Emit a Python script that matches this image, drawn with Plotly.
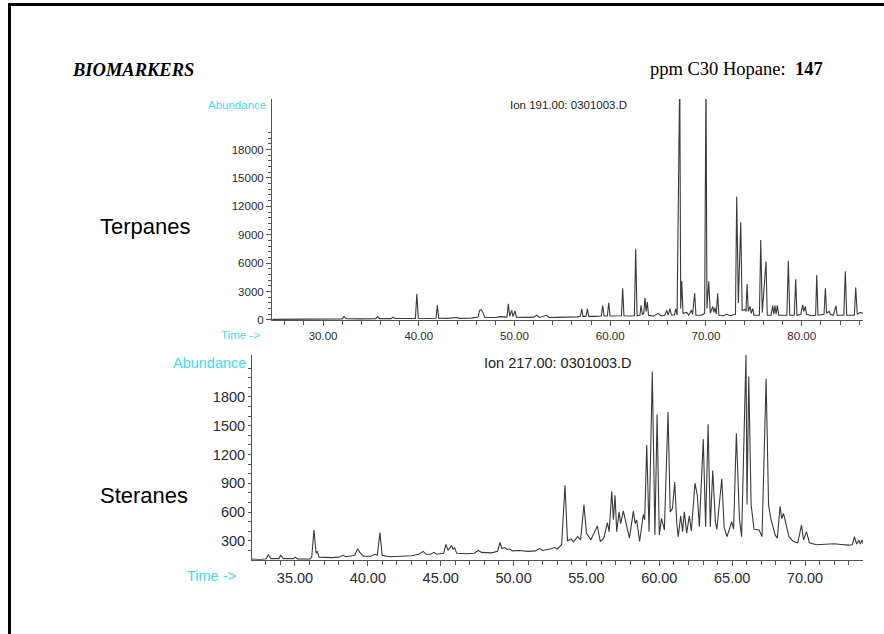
import plotly.graph_objects as go

# ---------------- data ----------------
top_title = "Ion 191.00: 0301003.D"
bottom_title = "Ion 217.00: 0301003.D"

top_time = [24.7, 26.0, 27.5, 28.4, 29.0, 30.5, 31.5, 32.0, 32.2, 32.4, 34.0, 35.5, 35.7, 35.9,
            37.1, 37.3, 37.5, 39.0, 39.65, 39.8, 39.95, 41.0, 41.8, 41.94, 42.08, 43.0, 43.96, 44.2,
            45.5, 46.2, 46.35, 46.5, 46.65, 46.9, 48.0, 48.5, 49.0, 49.22, 49.35, 49.5, 49.71, 49.85,
            50.05, 50.2, 51.0, 52.0, 52.32, 52.6, 53.37, 53.6, 54.5, 55.5, 56.0, 56.5, 56.88, 57.02,
            57.15, 57.47, 57.61, 57.75, 58.5, 59.07, 59.21, 59.35, 59.7, 59.84, 59.98, 60.8, 61.17,
            61.3, 61.43, 62.0, 62.52, 62.66, 62.8, 63.1, 63.21, 63.35, 63.5, 63.63, 63.75, 63.87, 64.0,
            64.5, 65.02, 65.3, 65.7, 65.9, 66.05, 66.24, 66.4, 66.7, 66.84, 66.98, 67.26, 67.36, 67.47,
            67.6, 67.99, 68.2, 68.47, 68.6, 68.82, 68.95, 69.5, 69.86, 70.0, 70.1, 70.29, 70.45, 70.7,
            70.82, 70.94, 71.07, 71.22, 71.35, 71.8, 72.17, 72.5, 73.08, 73.21, 73.38, 73.63, 73.78,
            74.08, 74.18, 74.29, 74.42, 74.6, 74.72, 74.88, 75.0, 75.58, 75.72, 75.88, 76.27, 76.4,
            76.8, 76.97, 77.08, 77.21, 77.32, 77.45, 77.6, 78.45, 78.6, 78.75, 79.22, 79.37, 79.5,
            79.9, 80.1, 80.22, 80.38, 80.5, 81.0, 81.45, 81.57, 81.7, 82.33, 82.47, 82.6, 82.88, 83.0,
            83.3, 83.58, 83.7, 84.4, 84.55, 84.7, 85.5, 85.64, 85.8, 86.1, 86.4]
top_abund = [60, 70, 60, 110, 80, 90, 100, 110, 380, 120, 110, 140, 350, 140,
             140, 300, 150, 140, 160, 2750, 170, 150, 170, 1540, 180, 170, 260, 170,
             190, 300, 1000, 1080, 900, 250, 250, 350, 260, 300, 1700, 400, 1020, 350,
             950, 300, 270, 300, 500, 260, 490, 260, 270, 260, 300, 320, 380, 1180,
             380, 380, 1180, 380, 380, 420, 1530, 420, 420, 1810, 420, 420, 450,
             3350, 450, 420, 450, 7530, 450, 500, 1530, 600, 700, 2330, 900, 1880, 500,
             400, 700, 420, 500, 1020, 500, 1180, 520, 520, 1180, 520, 26000, 1200, 4080,
             700, 800, 500, 1020, 600, 2820, 500, 500, 700, 26000, 1200, 4080, 700, 1430,
             800, 1300, 600, 2820, 500, 450, 600, 450, 600, 13040, 1800, 10320, 1000,
             1100, 900, 3800, 900, 1430, 700, 1200, 500, 500, 8440, 800, 6170, 500,
             500, 1530, 600, 1530, 600, 1530, 500, 500, 6240, 500, 500, 4290, 500,
             600, 1600, 900, 1430, 600, 450, 500, 4740, 500, 600, 3350, 700, 900, 600,
             500, 1500, 500, 500, 5130, 500, 500, 3420, 600, 800, 700]

bottom_time = [32.05, 32.6, 33.0, 33.17, 33.35, 33.9, 34.02, 34.2, 34.9, 35.0, 35.2, 36.0, 36.15,
               36.3, 36.45, 36.53, 36.65, 37.5, 38.0, 38.3, 38.5, 38.8, 39.1, 39.3, 39.45, 39.7,
               40.2, 40.49, 40.65, 40.83, 40.98, 41.5, 42.5, 43.0, 43.5, 43.8, 44.0, 44.3, 44.54,
               44.7, 45.2, 45.36, 45.5, 45.75, 45.85, 45.95, 46.1, 46.8, 47.3, 47.58, 47.8, 48.5,
               48.9, 49.07, 49.2, 49.41, 49.55, 49.76, 49.9, 50.4, 51.0, 51.5, 51.8, 52.0, 52.5,
               52.8, 53.0, 53.3, 53.53, 53.7, 53.95, 54.1, 54.4, 54.6, 54.83, 55.0, 55.3, 55.75,
               55.95, 56.2, 56.44, 56.56, 56.74, 56.85, 56.96, 57.08, 57.24, 57.35, 57.53, 57.75,
               57.95, 58.22, 58.35, 58.45, 58.65, 58.9, 59.0, 59.14, 59.3, 59.52, 59.7, 59.85, 60.0,
               60.15, 60.35, 60.6, 60.75, 60.9, 61.06, 61.2, 61.3, 61.47, 61.6, 61.72, 61.88, 62.06,
               62.2, 62.45, 62.61, 62.75, 63.02, 63.18, 63.35, 63.5, 63.67, 63.85, 63.95, 64.29,
               64.45, 64.65, 64.97, 65.1, 65.29, 65.5, 65.65, 65.95, 66.02, 66.14, 66.3, 66.5, 66.85,
               67.05, 67.33, 67.5, 67.65, 67.95, 68.1, 68.29, 68.4, 68.52, 68.6, 68.7, 68.9, 69.2,
               69.5, 69.76, 69.9, 70.1, 70.3, 70.8, 71.5, 72.0, 72.5, 73.0, 73.25, 73.39, 73.55,
               73.7, 73.8, 73.92, 74.0]
bottom_abund = [110, 105, 110, 155, 115, 115, 150, 115, 115, 130, 110, 110, 130,
                413, 170, 190, 130, 125, 130, 150, 135, 140, 150, 217, 180, 140,
                140, 160, 150, 386, 150, 135, 145, 145, 160, 190, 160, 160, 180,
                160, 170, 262, 200, 250, 210, 230, 170, 165, 170, 200, 180, 175,
                190, 283, 220, 230, 210, 215, 195, 200, 190, 195, 220, 200, 215,
                230, 215, 260, 878, 300, 320, 290, 344, 310, 679, 380, 310, 455,
                293, 330, 489, 396, 816, 520, 775, 396, 602, 480, 613, 450,
                328, 610, 480, 517, 293, 575, 520, 1298, 396, 2065, 362, 1618, 362,
                534, 413, 1642, 602, 637, 912, 480, 344, 561, 396, 602, 380, 561,
                400, 902, 775, 448, 1360, 448, 1515, 448, 1033, 499, 420, 947,
                440, 344, 499, 420, 1422, 530, 344, 2240, 680, 2013, 680, 420, 413,
                344, 1989, 671, 534, 362, 328, 661, 530, 586, 530, 482, 344, 293,
                280, 465, 310, 396, 280, 260, 266, 270, 262, 255, 260, 344, 266,
                310, 266, 310, 270]

top_xticks = [30, 40, 50, 60, 70, 80]
top_xlabels = ["30.00", "40.00", "50.00", "60.00", "70.00", "80.00"]
top_yticks = [0, 3000, 6000, 9000, 12000, 15000, 18000]
top_ylabels = ["0", "3000", "6000", "9000", "12000", "15000", "18000"]
bottom_xticks = [35, 40, 45, 50, 55, 60, 65, 70]
bottom_xlabels = ["35.00", "40.00", "45.00", "50.00", "55.00", "60.00", "65.00", "70.00"]
bottom_yticks = [300, 600, 900, 1200, 1500, 1800]
bottom_ylabels = ["300", "600", "900", "1200", "1500", "1800"]

# ---------------- figure ----------------
W, H = 884, 634
def px(x):
    return x / W
def py(y):
    return 1 - y / H

LINE = "#3a3a3a"
AX = "#555555"
TXT = "#2b2b2b"
CYAN = "#3ddcef"
SANS = "Liberation Sans, Arial, sans-serif"
SERIF = "Liberation Serif, Times New Roman, serif"

fig = go.Figure()
fig.add_trace(go.Scatter(x=top_time, y=top_abund, mode="lines",
                         line=dict(color=LINE, width=1.1), xaxis="x", yaxis="y",
                         showlegend=False, hoverinfo="skip"))
fig.add_trace(go.Scatter(x=bottom_time, y=bottom_abund, mode="lines",
                         line=dict(color=LINE, width=1.1), xaxis="x2", yaxis="y2",
                         showlegend=False, hoverinfo="skip"))

common = dict(showgrid=False, zeroline=False, showline=True, linecolor=AX, linewidth=1,
              ticks="outside", tickcolor=AX, tickmode="array")

fig.update_layout(
    width=W, height=H, autosize=False,
    margin=dict(l=0, r=0, t=0, b=0),
    paper_bgcolor="white", plot_bgcolor="white",
    xaxis=dict(domain=[px(272), px(863)], range=[24.67, 86.40], anchor="y",
               tickvals=top_xticks, ticktext=top_xlabels, ticklen=5,
               tickfont=dict(family=SANS, size=11.5, color=TXT),
               minor=dict(tickvals=list(range(26, 87, 2)), ticklen=4, tickcolor=AX, ticks="outside"),
               **common),
    yaxis=dict(domain=[py(323), py(100)], range=[0, 23330], anchor="x",
               tickvals=top_yticks, ticktext=top_ylabels, ticklen=5,
               tickfont=dict(family=SANS, size=11.5, color=TXT),
               minor=dict(tickvals=list(range(600, 20400, 600)), ticklen=3, tickcolor=AX, ticks="outside"),
               **common),
    xaxis2=dict(domain=[px(252), px(863)], range=[32.05, 73.98], anchor="y2",
                tickvals=bottom_xticks, ticktext=bottom_xlabels, ticklen=5,
                tickfont=dict(family=SANS, size=14.5, color=TXT),
                minor=dict(tickvals=list(range(33, 74, 1)), ticklen=4, tickcolor=AX, ticks="outside"),
                **common),
    yaxis2=dict(domain=[py(565), py(358)], range=[104, 2241], anchor="x2",
                tickvals=bottom_yticks, ticktext=bottom_ylabels, ticklen=3,
                tickfont=dict(family=SANS, size=14.5, color=TXT),
                minor=dict(tickvals=list(range(200, 2200, 100)), ticklen=3, tickcolor=AX, ticks="outside"),
                **common),
)

ann = [
    dict(x=px(70), y=py(71), text="<b><i>BIOMARKERS</i></b>", xanchor="left",
         font=dict(family=SERIF, size=18.5, color="#000")),
    dict(x=px(825), y=py(70), text="ppm C30 Hopane:  <b>147</b>", xanchor="right",
         font=dict(family=SERIF, size=18.5, color="#000")),
    dict(x=px(98), y=py(229), text="Terpanes", xanchor="left",
         font=dict(family=SANS, size=22, color="#000")),
    dict(x=px(98), y=py(500), text="Steranes", xanchor="left",
         font=dict(family=SANS, size=22, color="#000")),
    dict(x=px(268), y=py(106), text="Abundance", xanchor="right",
         font=dict(family=SANS, size=11.5, color=CYAN)),
    dict(x=px(568), y=py(106), text=top_title, xanchor="center",
         font=dict(family=SANS, size=11.5, color="#222")),
    dict(x=px(262), y=py(338), text="Time ->", xanchor="right",
         font=dict(family=SANS, size=11.5, color=CYAN)),
    dict(x=px(248), y=py(366), text="Abundance", xanchor="right",
         font=dict(family=SANS, size=14.5, color=CYAN)),
    dict(x=px(558), y=py(366), text=bottom_title, xanchor="center",
         font=dict(family=SANS, size=14.5, color="#222")),
    dict(x=px(238), y=py(582), text="Time ->", xanchor="right",
         font=dict(family=SANS, size=14.5, color=CYAN)),
]
for a in ann:
    a.update(xref="paper", yref="paper", yanchor="middle", showarrow=False)
fig.update_layout(annotations=ann)

fig.update_layout(shapes=[
    dict(type="line", xref="paper", yref="paper", x0=px(9.5), x1=1.01, y0=py(4.5), y1=py(4.5),
         line=dict(color="black", width=3)),
    dict(type="line", xref="paper", yref="paper", x0=px(9.5), x1=px(9.5), y0=py(3), y1=-0.01,
         line=dict(color="black", width=3)),
])

fig.write_html("out.html")
